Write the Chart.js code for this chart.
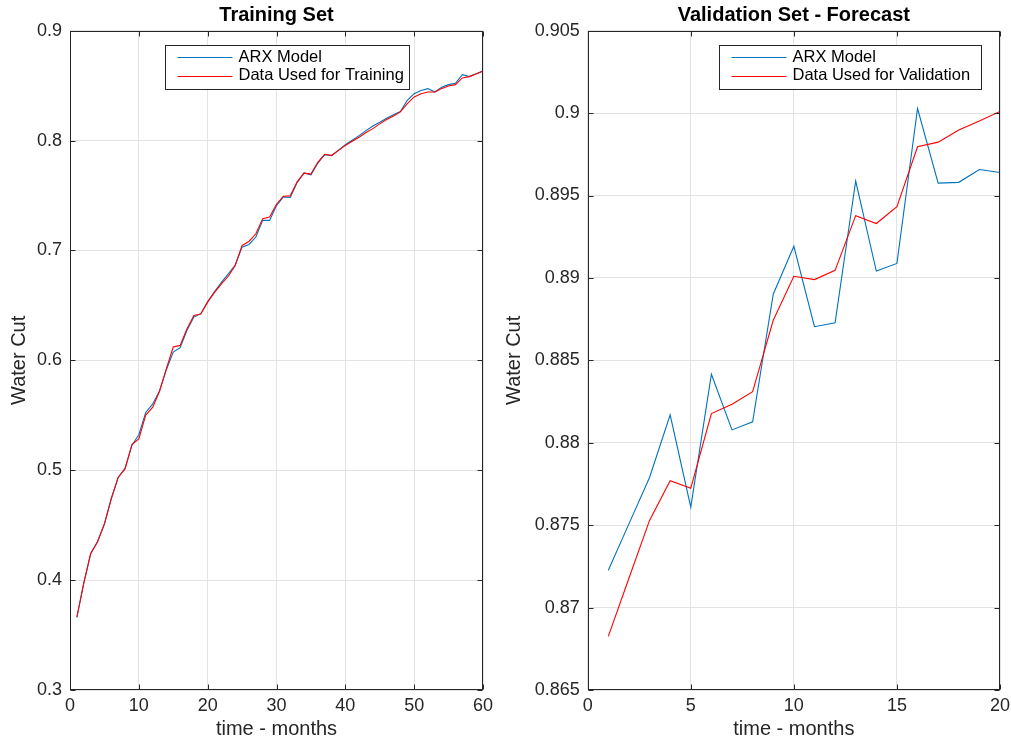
<!DOCTYPE html>
<html>
<head>
<meta charset="utf-8">
<title>Water Cut – ARX Model</title>
<script src="https://cdn.jsdelivr.net/npm/chart.js@4.4.1/dist/chart.umd.min.js"></script>
<style>
  html, body { margin: 0; padding: 0; background: #ffffff; }
  #wrap { position: relative; width: 1011px; height: 742px; overflow: hidden; background: #ffffff; }
  canvas { position: absolute; top: 0; }
  #cTrain { left: 0; }
  #cValid { left: 495px; }
</style>
</head>
<body>
<div id="wrap">
  <canvas id="cTrain" width="495" height="742"></canvas>
  <canvas id="cValid" width="516" height="742"></canvas>
</div>
<script>
// ---- Training set (months 1..60) ----
const trainMonths = [1,2,3,4,5,6,7,8,9,10,11,12,13,14,15,16,17,18,19,20,
  21,22,23,24,25,26,27,28,29,30,31,32,33,34,35,36,37,38,39,40,
  41,42,43,44,45,46,47,48,49,50,51,52,53,54,55,56,57,58,59,60];
const trainArx = [0.3662,0.3975,0.4238,0.4352,0.4508,0.4745,0.4932,0.5020,0.5228,0.5323,
  0.5526,0.5601,0.5722,0.5915,0.6076,0.6115,0.6273,0.6394,0.6425,0.6535,
  0.6627,0.6710,0.6787,0.6868,0.7030,0.7055,0.7122,0.7274,0.7274,0.7408,
  0.7488,0.7482,0.7618,0.7706,0.7688,0.7795,0.7872,0.7862,0.7913,0.7962,
  0.8003,0.8045,0.8091,0.8133,0.8167,0.8203,0.8235,0.8264,0.8367,0.8427,
  0.8455,0.8473,0.8442,0.8485,0.8509,0.8521,0.8600,0.8582,0.8608,0.8633];
const trainData = [0.3662,0.3970,0.4242,0.4347,0.4514,0.4740,0.4937,0.5012,0.5233,0.5284,
  0.5502,0.5571,0.5717,0.5924,0.6121,0.6136,0.6288,0.6409,0.6421,0.6530,
  0.6619,0.6695,0.6765,0.6863,0.7046,0.7082,0.7152,0.7290,0.7305,0.7421,
  0.7494,0.7497,0.7625,0.7704,0.7695,0.7802,0.7875,0.7866,0.7909,0.7956,
  0.7994,0.8030,0.8073,0.8109,0.8152,0.8191,0.8224,0.8261,0.8336,0.8397,
  0.8427,0.8442,0.8442,0.8473,0.8497,0.8509,0.8570,0.8582,0.8606,0.8633];
const trainXTicks = [0,10,20,30,40,50,60];
const trainYTicks = [0.3,0.4,0.5,0.6,0.7,0.8,0.9];
const trainYTickLabels = ['0.3','0.4','0.5','0.6','0.7','0.8','0.9'];

// ---- Validation set (months 1..20) ----
const validMonths = [1,2,3,4,5,6,7,8,9,10,11,12,13,14,15,16,17,18,19,20];
const validArx = [0.87226,0.87508,0.87789,0.88169,0.87609,0.88416,0.88078,0.88127,0.88901,0.89192,
  0.88704,0.88728,0.89588,0.89042,0.89088,0.90028,0.89575,0.89580,0.89658,0.89640];
const validData = [0.86825,0.87178,0.87529,0.87770,0.87724,0.88177,0.88234,0.88310,0.88743,0.89010,
  0.88990,0.89046,0.89378,0.89330,0.89432,0.89796,0.89824,0.89898,0.89952,0.90010];
const validXTicks = [0,5,10,15,20];
const validYTicks = [0.865,0.87,0.875,0.88,0.885,0.89,0.895,0.9,0.905];
const validYTickLabels = ['0.865','0.87','0.875','0.88','0.885','0.89','0.895','0.9','0.905'];

const FONT = "'Liberation Sans', Arial, Helvetica, sans-serif";
const AXIS_COLOR = '#262626';
const GRID_COLOR = '#e3e3e3';
const BLUE = '#0072BD';
const RED = '#FF0000';

function pairs(xs, ys) { return xs.map((x, i) => ({ x: x, y: ys[i] })); }

// Box around the plot area with tick marks pointing inwards on all four sides.
const framePlugin = {
  id: 'axesFrame',
  afterDatasetsDraw(chart) {
    const { ctx, chartArea: a, scales: { x, y } } = chart;
    const L = 5;
    const l = Math.round(a.left) + 0.5, r = Math.round(a.right) - 0.5;
    const t = Math.round(a.top) + 0.5, b = Math.round(a.bottom) - 0.5;
    ctx.save();
    ctx.strokeStyle = AXIS_COLOR;
    ctx.lineWidth = 1;
    ctx.beginPath();
    x.ticks.forEach(tk => {
      const px = Math.round(x.getPixelForValue(tk.value)) + 0.5;
      ctx.moveTo(px, b); ctx.lineTo(px, b - L);
      ctx.moveTo(px, t); ctx.lineTo(px, t + L);
    });
    y.ticks.forEach(tk => {
      const py = Math.round(y.getPixelForValue(tk.value)) + 0.5;
      ctx.moveTo(l, py); ctx.lineTo(l + L, py);
      ctx.moveTo(r, py); ctx.lineTo(r - L, py);
    });
    ctx.stroke();
    ctx.strokeRect(l, t, r - l, b - t);
    ctx.restore();
  }
};

// Boxed legend placed inside the plot area.
const boxLegendPlugin = {
  id: 'boxLegend',
  afterDraw(chart, args, opts) {
    const { ctx, chartArea: a } = chart;
    const ds = chart.data.datasets;
    ctx.save();
    ctx.font = '16.5px ' + FONT;
    const x0 = Math.round(a.left + opts.dx) + 0.5;
    const y0 = Math.round(a.top + opts.dy) + 0.5;
    const lineStart = 12, lineLen = 55, gap = 6;
    const w = opts.width, h = 44;
    ctx.fillStyle = '#ffffff';
    ctx.fillRect(x0, y0, w, h);
    ctx.strokeStyle = AXIS_COLOR;
    ctx.lineWidth = 1;
    ctx.strokeRect(x0, y0, w, h);
    ds.forEach((d, i) => {
      const cy = y0 + 11.5 + i * 18.5;
      ctx.strokeStyle = d.borderColor;
      ctx.lineWidth = 1;
      ctx.beginPath();
      ctx.moveTo(x0 + lineStart, Math.round(cy) + 0.5);
      ctx.lineTo(x0 + lineStart + lineLen, Math.round(cy) + 0.5);
      ctx.stroke();
      ctx.fillStyle = '#000000';
      ctx.textBaseline = 'middle';
      ctx.textAlign = 'left';
      ctx.fillText(d.label, x0 + lineStart + lineLen + gap, cy);
    });
    ctx.restore();
  }
};

function makeChart(id, cfg) {
  return new Chart(document.getElementById(id), {
    type: 'line',
    data: {
      datasets: [
        { label: 'ARX Model', data: pairs(cfg.months, cfg.arx), borderColor: BLUE,
          borderWidth: 1.1, pointRadius: 0, tension: 0, fill: false, order: 1 },
        { label: cfg.dataLabel, data: pairs(cfg.months, cfg.data), borderColor: RED,
          borderWidth: 1.1, pointRadius: 0, tension: 0, fill: false, order: 0 }
      ]
    },
    options: {
      responsive: false,
      animation: false,
      events: [],
      layout: { padding: { left: 0, right: cfg.padRight, top: 0, bottom: 0 } },
      plugins: {
        legend: { display: false },
        tooltip: { enabled: false },
        title: {
          display: true, text: cfg.title, color: '#000000', fullSize: false,
          font: { family: FONT, size: 20, weight: 'bold', lineHeight: 1.2 },
          padding: { top: 3, bottom: 3.7 }
        },
        boxLegend: { dx: cfg.legendDx, dy: 14.6, width: cfg.legendW }
      },
      scales: {
        x: {
          type: 'linear', min: cfg.xTicks[0], max: cfg.xTicks[cfg.xTicks.length - 1],
          afterBuildTicks: s => { s.ticks = cfg.xTicks.map(v => ({ value: v })); },
          afterFit: s => { s.height = 52; s.paddingLeft = 0; s.paddingRight = 0; },
          grid: { color: GRID_COLOR, lineWidth: 1, drawTicks: false },
          border: { display: false },
          ticks: { color: AXIS_COLOR, padding: 5, maxRotation: 0, autoSkip: false,
                   font: { family: FONT, size: 18 }, callback: v => String(v) },
          title: { display: true, text: 'time - months', color: AXIS_COLOR,
                   font: { family: FONT, size: 20, lineHeight: 1.2 }, padding: { top: 0, bottom: 1 } }
        },
        y: {
          type: 'linear', min: cfg.yTicks[0], max: cfg.yTicks[cfg.yTicks.length - 1],
          afterBuildTicks: s => { s.ticks = cfg.yTicks.map(v => ({ value: v })); },
          afterFit: s => { s.width = cfg.yAxisWidth; s.paddingTop = 0; s.paddingBottom = 0; },
          grid: { color: GRID_COLOR, lineWidth: 1, drawTicks: false },
          border: { display: false },
          ticks: { color: AXIS_COLOR, padding: 8, autoSkip: false,
                   font: { family: FONT, size: 18 }, callback: (v, i) => cfg.yLabels[i] },
          title: { display: true, text: 'Water Cut', color: AXIS_COLOR,
                   font: { family: FONT, size: 20, lineHeight: 1.2 }, padding: { top: 7, bottom: 0 } }
        }
      }
    },
    plugins: [framePlugin, boxLegendPlugin]
  });
}

makeChart('cTrain', {
  title: 'Training Set', dataLabel: 'Data Used for Training',
  months: trainMonths, arx: trainArx, data: trainData,
  xTicks: trainXTicks, yTicks: trainYTicks, yLabels: trainYTickLabels,
  yAxisWidth: 70, padRight: 12, legendDx: 95, legendW: 244
});

makeChart('cValid', {
  title: 'Validation Set - Forecast', dataLabel: 'Data Used for Validation',
  months: validMonths, arx: validArx, data: validData,
  xTicks: validXTicks, yTicks: validYTicks, yLabels: validYTickLabels,
  yAxisWidth: 92.7, padRight: 11, legendDx: 131.6, legendW: 262
});
</script>
</body>
</html>
